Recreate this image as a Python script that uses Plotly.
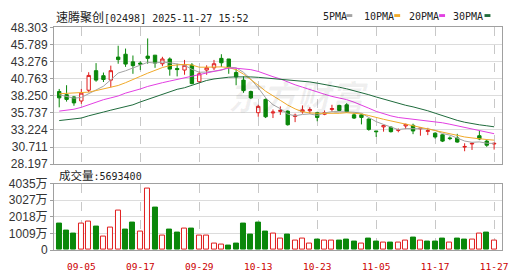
import numpy as np
import plotly.graph_objects as go

# ---------------- data ----------------
dates = ["09-02","09-03","09-04","09-05","09-08","09-09","09-10","09-11","09-12","09-15",
         "09-16","09-17","09-18","09-19","09-22","09-23","09-24","09-25","09-26","09-29",
         "09-30","10-02","10-03","10-06","10-08","10-09","10-10","10-13","10-14","10-15",
         "10-16","10-17","10-20","10-21","10-22","10-23","10-24","10-27","10-28","10-30",
         "10-31","11-03","11-04","11-05","11-06","11-07","11-10","11-11","11-12","11-13",
         "11-14","11-17","11-18","11-19","11-20","11-21","11-24","11-25","11-26","11-27"]

opens = [38.87, 38.41, 38.08, 37.48, 39.06, 41.94, 41.20, 40.55, 43.94, 44.36,
         43.24, 43.05, 44.08, 44.22, 42.96, 43.66, 42.26, 42.03, 42.77, 40.31,
         42.03, 42.36, 43.75, 43.66, 41.66, 40.55, 38.87, 35.76, 37.71, 35.72,
         35.95, 35.99, 35.20, 35.90, 36.04, 35.76, 35.53, 36.23, 36.83, 36.92,
         35.44, 35.44, 34.83, 33.07, 33.67, 33.63, 33.16, 33.81, 33.90, 33.39,
         33.02, 32.74, 32.51, 32.05, 32.05, 30.70, 31.16, 32.37, 31.58, 31.16]
highs = [39.25, 39.80, 38.22, 39.25, 41.71, 43.05, 41.66, 42.68, 45.61, 45.19,
         44.17, 43.33, 46.68, 44.22, 43.98, 43.89, 42.96, 43.52, 43.05, 41.80,
         42.73, 43.52, 44.36, 43.66, 42.26, 41.10, 39.01, 36.92, 37.85, 36.23,
         36.69, 36.09, 35.62, 36.83, 36.55, 35.90, 36.09, 36.92, 36.92, 37.16,
         35.76, 35.53, 34.92, 33.07, 34.00, 33.77, 33.44, 34.14, 34.14, 33.58,
         33.53, 32.88, 32.60, 32.28, 32.65, 31.26, 31.35, 33.07, 31.81, 31.35]
lows = [36.55, 37.39, 36.78, 37.06, 38.78, 40.31, 40.27, 39.48, 42.96, 42.50,
        41.48, 42.03, 42.96, 42.36, 42.59, 41.20, 41.10, 41.34, 39.94, 40.17,
        41.34, 42.03, 42.50, 41.48, 39.80, 38.69, 37.76, 35.16, 34.97, 34.97,
        35.44, 33.86, 34.37, 35.62, 35.62, 34.50, 35.39, 35.90, 35.99, 35.76,
        34.83, 34.04, 33.11, 32.19, 32.97, 32.84, 32.88, 33.35, 32.60, 32.37,
        32.46, 31.95, 31.44, 31.72, 31.35, 30.09, 30.28, 31.72, 30.74, 30.33]
closes = [37.94, 37.71, 37.20, 38.64, 41.24, 40.55, 40.64, 41.94, 43.57, 42.91,
          42.68, 42.91, 43.75, 43.05, 43.66, 42.17, 42.10, 42.73, 40.04, 41.48,
          42.36, 42.96, 43.10, 42.40, 41.01, 39.01, 37.94, 36.69, 35.16, 35.85,
          36.09, 33.99, 35.39, 36.18, 36.22, 35.06, 35.76, 36.37, 36.09, 35.90,
          34.97, 35.06, 33.30, 32.97, 33.86, 32.97, 33.25, 34.04, 33.07, 33.49,
          33.11, 32.19, 31.58, 31.95, 31.44, 30.79, 31.25, 31.90, 30.98, 31.25]

# volume in 万 shares
volume_wan = [1580, 1180, 1009, 1618, 1733, 1409, 838, 1390, 2418, 1238,
              1695, 1104, 3732, 2551, 876, 1238, 1066, 1276, 1295, 876,
              876, 362, 305, 267, 419, 1580, 952, 1637, 1123, 990,
              666, 952, 590, 704, 419, 609, 552, 590, 552, 609,
              495, 419, 666, 495, 476, 438, 476, 590, 781, 590,
              495, 495, 666, 476, 723, 609, 609, 990, 1066, 569.34]

# moving-average values before enough visible closes exist
ma5_head = [38.40, 38.20, 37.90, 38.00]
ma10_line = [38.55, 38.60, 38.60, 38.64, 38.78, 39.01, 39.25, 39.48, 39.76, 40.17,
             40.59, 41.10, 41.57, 42.03, 42.40, 42.68, 42.82, 42.87, 42.77, 42.45,
             42.45, 42.50, 42.50, 42.40, 42.08, 41.43, 40.64, 39.80, 38.92, 38.18,
             37.57, 36.88, 36.32, 35.90, 35.72, 35.67, 35.67, 35.62, 35.67, 35.76,
             35.67, 35.58, 35.34, 35.02, 34.79, 34.55, 34.32, 34.04, 33.81, 33.53,
             33.30, 33.07, 32.84, 32.65, 32.42, 32.19, 32.05, 31.90, 31.81, 31.72]
ma20_head = [35.99, 36.13, 36.27, 36.55, 36.92, 37.39, 37.67, 37.94, 38.22, 38.64,
             38.92, 39.25, 39.62, 39.94, 40.17, 40.41, 40.64, 40.96, 41.10]
ma30_head = [34.60, 34.69, 34.79, 34.97, 35.30, 35.62, 35.85, 36.13, 36.37, 36.60,
             36.92, 37.34, 37.71, 38.08, 38.50, 38.87, 39.20, 39.43, 39.80, 40.17,
             40.50, 40.72, 40.88, 40.98, 41.03, 41.05, 41.02, 40.96, 40.87]

tick_dates = ["09-05", "09-17", "09-29", "10-13", "10-23", "11-05", "11-17", "11-27"]
price_ticks = [28.197, 30.711, 33.224, 35.737, 38.250, 40.763, 43.276, 45.789, 48.303]
price_ticktext = ["28.197", "30.711", "33.224", "35.737", "38.250", "40.763", "43.276", "45.789", "48.303"]
vol_ticks = [0, 1008.75, 2017.5, 3026.25, 4035]
vol_ticktext = ["0", "1009万", "2018万", "3027万", "4035万"]

stock_name = "速腾聚创"
stock_code = "[02498] 2025-11-27 15:52"
vol_title = "成交量"
last_volume = "5693400"

# ---------------- derived ----------------
n = len(dates)
idx = list(range(n))
closes_arr = np.array(closes)


def moving(head, w):
    out = list(head)
    for i in range(len(head), n):
        out.append(float(closes_arr[i - w + 1:i + 1].mean()))
    return out


ma5 = moving(ma5_head, 5)
ma20 = moving(ma20_head, 20)
ma30 = moving(ma30_head, 30)

RED = "#e01e1e"
GREEN = "#0a870a"
prev = [opens[0]] + closes[:-1]
vol_up = [c >= p for c, p in zip(closes, prev)]
vol_fill = ["white" if u else GREEN for u in vol_up]
vol_line = [RED if u else GREEN for u in vol_up]
tickvals = [dates.index(d) for d in tick_dates]

W, H = 530, 276
X0, X1 = 54.7, 508.5
def px(x):
    return x / W
def py(y):
    return 1 - y / H

fig = go.Figure()
fig.add_trace(go.Candlestick(
    x=idx, open=opens, high=highs, low=lows, close=closes,
    increasing=dict(line=dict(color=RED, width=1), fillcolor="white"),
    decreasing=dict(line=dict(color=GREEN, width=1), fillcolor=GREEN),
    whiskerwidth=0, xaxis="x", yaxis="y", showlegend=False, hoverinfo="skip"))

ma_specs = [("5PMA", ma5, "#a3a3a3"), ("10PMA", ma10_line, "#f0aa2a"),
            ("20PMA", ma20, "#e23fe2"), ("30PMA", ma30, "#1f6b3c")]
for name, vals, col in ma_specs:
    fig.add_trace(go.Scatter(x=idx, y=vals, mode="lines", name=name,
                             line=dict(color=col, width=1), xaxis="x", yaxis="y",
                             showlegend=False, hoverinfo="skip"))

fig.add_trace(go.Bar(x=idx, y=volume_wan, width=0.68,
                     marker=dict(color=vol_fill, line=dict(color=vol_line, width=1)),
                     xaxis="x2", yaxis="y2", showlegend=False, hoverinfo="skip"))

frame = "#a0a0a0"
common_x = dict(range=[-0.71, 60.04], tickvals=tickvals, showgrid=True,
                gridcolor="#c8c8c8", griddash="dash", gridwidth=1,
                showline=True, mirror=True, linecolor=frame, linewidth=1,
                zeroline=False, fixedrange=True)

fig.update_layout(
    width=W, height=H, margin=dict(l=0, r=0, t=0, b=0),
    paper_bgcolor="white", plot_bgcolor="white",
    boxgap=0.35, bargap=0, showlegend=False,
    xaxis=dict(domain=[px(X0), px(X1)], anchor="y", showticklabels=False, ticks="",
               rangeslider=dict(visible=False), **common_x),
    xaxis2=dict(domain=[px(X0), px(X1)], anchor="y2", matches="x",
                ticktext=tick_dates, showticklabels=True,
                ticks="outside", ticklen=8, tickcolor="rgba(0,0,0,0)",
                tickfont=dict(family="DejaVu Sans Mono", size=9.5, color="#cc0000"),
                **common_x),
    yaxis=dict(domain=[py(165.5), py(21.5)], range=[28.197, 48.303],
               tickvals=price_ticks, ticktext=price_ticktext,
               gridcolor="#dcdcdc", showline=True, mirror=True, linecolor=frame,
               zeroline=False, ticks="outside", ticklen=3, tickcolor=frame,
               tickfont=dict(family="Liberation Sans", size=12, color="#333333"),
               fixedrange=True),
    yaxis2=dict(domain=[py(256), py(186)], range=[0, 4035],
                tickvals=vol_ticks, ticktext=vol_ticktext,
                gridcolor="#dcdcdc", showline=True, mirror=True, linecolor=frame,
                zeroline=False, ticks="outside", ticklen=3, tickcolor=frame,
                tickfont=dict(family="Liberation Sans, Noto Sans CJK SC", size=12, color="#333333"),
                fixedrange=True),
)

cjk = "font-family:'Noto Sans CJK SC';font-size:12px"
ann = []
ann.append(dict(x=px(55), y=py(9.5), xref="paper", yref="paper", xanchor="left", yanchor="middle",
                showarrow=False,
                text=f"<span style=\"{cjk}\">{stock_name}</span>{stock_code}",
                font=dict(family="DejaVu Sans Mono", size=10, color="#222222")))
ann.append(dict(x=px(57.5), y=py(177), xref="paper", yref="paper", xanchor="left", yanchor="middle",
                showarrow=False,
                text=f"<span style=\"font-family:'Noto Sans CJK SC';font-size:11.5px\">{vol_title}</span>:{last_volume}",
                font=dict(family="DejaVu Sans Mono", size=10, color="#222222")))
# watermark
ann.append(dict(x=px(302), y=py(93), xref="paper", yref="paper", xanchor="center", yanchor="middle",
                showarrow=False, text="<b><i>东方财富</i></b>",
                font=dict(family="Noto Sans CJK SC", size=34, color="rgba(0,0,0,0.06)")))

legend_text_x = [325, 367, 412, 457.5]
legend_mark_x = [351, 399.5, 445, 491]
shapes = []
for (name, vals, col), tx, mx in zip(ma_specs, legend_text_x, legend_mark_x):
    ann.append(dict(x=px(tx), y=py(9.5), xref="paper", yref="paper", xanchor="left", yanchor="middle",
                    showarrow=False, text=name,
                    font=dict(family="DejaVu Sans Mono", size=10, color="#222222")))
    shapes.append(dict(type="rect", xref="paper", yref="paper",
                       x0=px(mx), x1=px(mx + 6), y0=py(10.5), y1=py(7.5),
                       fillcolor=col, line=dict(width=0)))

fig.update_layout(annotations=ann, shapes=shapes)
fig.write_html("out.html")
